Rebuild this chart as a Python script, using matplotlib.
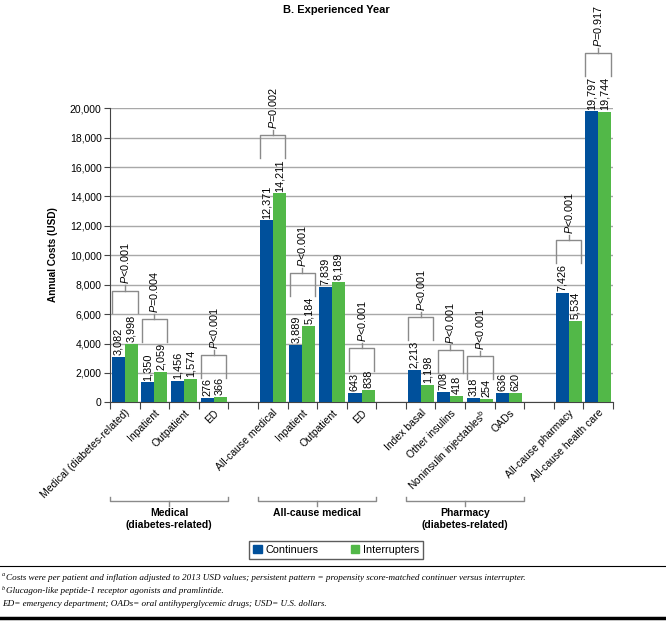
import numpy as np
import matplotlib
matplotlib.use('Agg')
import matplotlib.pyplot as plt
import matplotlib.transforms as mtransforms
from matplotlib.patches import Patch

plt.rcParams['font.family'] = ['Liberation Sans', 'DejaVu Sans']
plt.rcParams['mathtext.fontset'] = 'custom'
plt.rcParams['mathtext.rm'] = 'Liberation Sans'
plt.rcParams['mathtext.it'] = 'Liberation Sans:italic'
plt.rcParams['mathtext.bf'] = 'Liberation Sans:bold'

# data
categories = ['Medical (diabetes-related)', 'Inpatient', 'Outpatient', 'ED',
              'All-cause medical', 'Inpatient', 'Outpatient', 'ED',
              'Index basal', 'Other insulins', 'Noninsulin injectables$^{\\mathrm{b}}$', 'OADs',
              'All-cause pharmacy', 'All-cause health care']
continuers = [3082, 1350, 1456, 276, 12371, 3889, 7839, 643, 2213, 708, 318, 636, 7426, 19797]
interrupters = [3998, 2059, 1574, 366, 14211, 5184, 8189, 838, 1198, 418, 254, 620, 5534, 19744]
p_values = ['<0.001', '=0.004', None, '<0.001',
            '=0.002', '<0.001', None, '<0.001',
            '<0.001', '<0.001', '<0.001', None,
            '<0.001', '=0.917']
group_names = ['Medical\n(diabetes-related)', 'All-cause medical', 'Pharmacy\n(diabetes-related)']
group_sizes = [4, 4, 4]
series_names = ['Continuers', 'Interrupters']
yticks = np.arange(0, 20001, 2000)

footnotes = [('a', 'Costs were per patient and inflation adjusted to 2013 USD values; persistent pattern = propensity score-matched continuer versus interrupter.'),
             ('b', 'Glucagon-like peptide-1 receptor agonists and pramlintide.'),
             ('', 'ED= emergency department; OADs= oral antihyperglycemic drugs; USD= U.S. dollars.')]

blue = '#00509b'
green = '#52b848'
grey = '#8a8a8a'

# slot positions: one empty slot after each named group
pos = []
group_spans = []
slot = 0
for size in group_sizes:
    start = slot
    for k in range(size):
        pos.append(slot)
        slot += 1
    group_spans.append((start - 0.5, slot - 0.5))
    slot += 1
while len(pos) < len(categories):
    pos.append(slot)
    slot += 1
pos = np.array(pos)
nslots = slot

fig = plt.figure(figsize=(6.66, 6.23), dpi=100)
ax = fig.add_axes([110/666, 1 - 402.3/623, 503/666, 294/623])

w = 0.44
ax.bar(pos - w/2, continuers, w, color=blue, zorder=3)
ax.bar(pos + w/2, interrupters, w, color=green, zorder=3)

for x, v in zip(pos - w/2, continuers):
    ax.text(x, v + 120, f'{v:,}', rotation=90, ha='center', va='bottom', fontsize=7.8, clip_on=False)
for x, v in zip(pos + w/2, interrupters):
    ax.text(x, v + 120, f'{v:,}', rotation=90, ha='center', va='bottom', fontsize=7.8, clip_on=False)

# p-value brackets
for x, c, it, p in zip(pos, continuers, interrupters, p_values):
    if p is None:
        continue
    vmax = max(c, it)
    leg = vmax + 150 + 380 * len(f'{vmax:,}')
    top = leg + 1550
    x0, x1 = x - 0.43, x + 0.43
    ax.plot([x0, x0, x1, x1], [leg, top, top, leg], color=grey, lw=1, clip_on=False)
    ax.plot([x, x], [top, top + 350], color=grey, lw=1, clip_on=False)
    ax.text(x, top + 420, f'$P${p}', rotation=90, ha='center', va='bottom', fontsize=7.8, clip_on=False)

ax.set_xlim(-0.5, nslots - 0.5)
ax.set_ylim(0, 20000)
ax.set_yticks(yticks)
ax.set_yticklabels([f'{t:,}' for t in yticks], fontsize=7.5)
ax.yaxis.grid(True, color='#a8a8a8', lw=1)
ax.set_axisbelow(True)
for s in ['top', 'right']:
    ax.spines[s].set_visible(False)
ax.spines['left'].set_color('#444444')
ax.spines['bottom'].set_color('#444444')
ax.tick_params(axis='y', length=4, color='#444444', pad=2)

ax.set_xticks(np.arange(nslots + 1) - 0.5)
ax.set_xticklabels([])
ax.tick_params(axis='x', which='major', length=5, color='#444444')
ax.set_xticks(pos, minor=True)
ax.set_xticklabels(categories, minor=True, fontsize=7.5, rotation=45, ha='right',
                   rotation_mode='anchor')
ax.tick_params(axis='x', which='minor', length=0, pad=4)

ax.set_ylabel('Annual Costs (USD)', fontsize=7.2, fontweight='bold')
ax.yaxis.set_label_coords(-0.103, 0.504)

# group brackets under the axis
trans = mtransforms.blended_transform_factory(ax.transData, ax.transAxes)
for (a, b), name in zip(group_spans, group_names):
    ax.plot([a, a, b, b], [-0.321, -0.335, -0.335, -0.321], color=grey, lw=1,
            transform=trans, clip_on=False)
    mid = (a + b) / 2
    ax.plot([mid, mid], [-0.335, -0.352], color=grey, lw=1, transform=trans, clip_on=False)
    ax.text(mid, -0.36, name, ha='center', va='top', fontsize=7.5, fontweight='bold',
            linespacing=1.25, transform=trans)

fig.text(336.7/666, 1 - 10/623, 'B. Experienced Year', ha='center', va='center',
         fontsize=8, fontweight='bold')

handles = [Patch(color=blue), Patch(color=green)]
leg = fig.legend(handles, series_names, loc='center', bbox_to_anchor=(336/666, 1 - 550/623),
                 ncol=2, fontsize=7.8, frameon=True, fancybox=False, edgecolor='#333333',
                 handlelength=0.8, handleheight=0.8, handletextpad=0.3, columnspacing=3.0,
                 borderpad=0.35, borderaxespad=0)
leg.get_frame().set_linewidth(1)

# footnotes
fig.add_artist(plt.Line2D([0, 1], [1 - 566/623, 1 - 566/623], color='black', lw=0.8,
                          transform=fig.transFigure))
fig.add_artist(plt.Line2D([0, 1], [1 - 618/623, 1 - 618/623], color='black', lw=2.5,
                          transform=fig.transFigure))
for k, (sup, txt) in enumerate(footnotes):
    y = 1 - (578 + 13 * k) / 623
    xs = 2 / 666
    if sup:
        fig.text(xs, y + 3/623, sup, fontsize=4.5, family='Liberation Serif', style='italic',
                 va='center')
        xs = 6 / 666
    fig.text(xs, y, txt, fontsize=6.55, family='Liberation Serif', style='italic', va='center')

fig.savefig('out.png', dpi=100)
